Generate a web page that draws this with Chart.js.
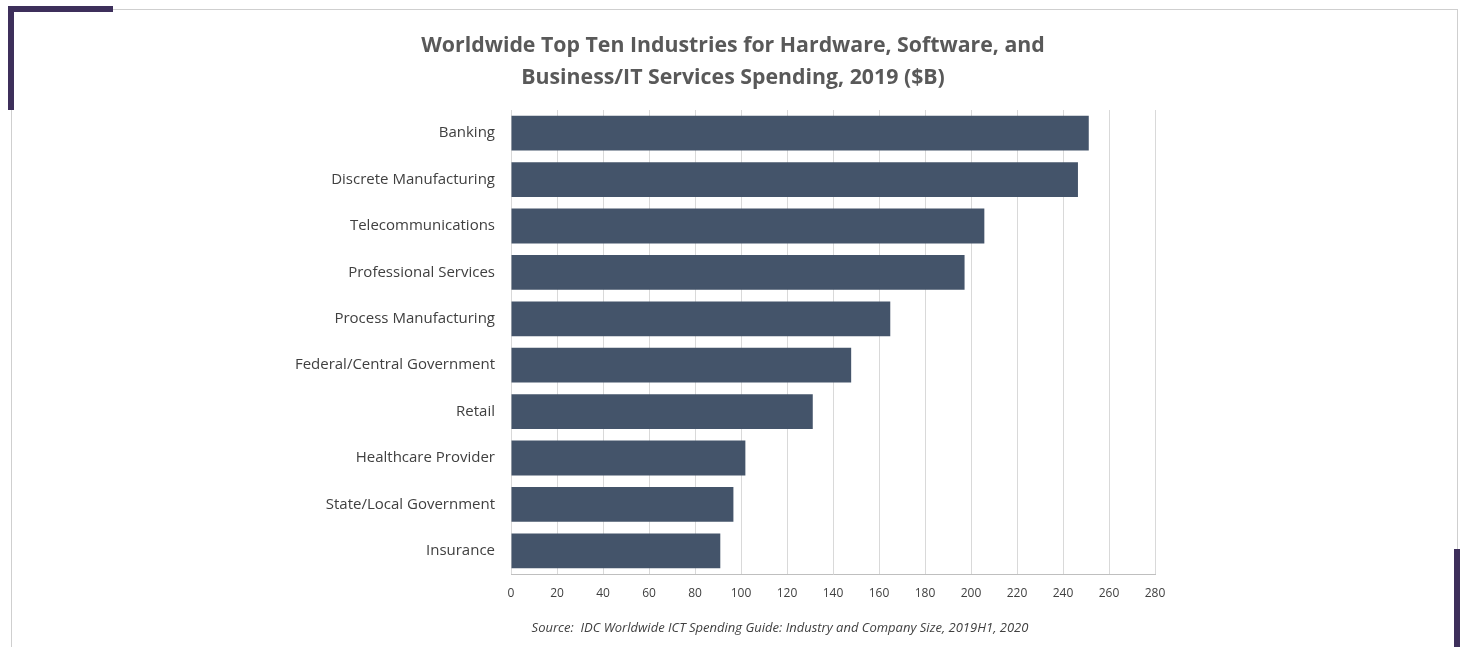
<!DOCTYPE html>
<html>
<head>
<meta charset="utf-8">
<script src="https://cdn.jsdelivr.net/npm/chart.js@4/dist/chart.umd.min.js"></script>
<style>
  html, body { margin: 0; padding: 0; background: #ffffff; }
  #wrap { position: relative; width: 1463px; height: 647px; overflow: hidden; background: #fff; }
  #c { position: absolute; left: 0; top: 0; }
  .ln { position: absolute; background: #cfcfcf; }
  .pp { position: absolute; background: #3d2f5b; }
</style>
</head>
<body>
<div id="wrap">
  <canvas id="c" width="1463" height="647"></canvas>
  <div class="ln" style="left:12px; top:9px; width:1446px; height:1px;"></div>
  <div class="ln" style="left:11px; top:9px; width:1px; height:640px;"></div>
  <div class="ln" style="left:1457px; top:9px; width:1px; height:640px;"></div>
  <div class="pp" style="left:8px; top:6px; width:105px; height:6px;"></div>
  <div class="pp" style="left:8px; top:6px; width:6px; height:104px;"></div>
  <div class="pp" style="left:1454px; top:549px; width:6px; height:98px;"></div>
</div>
<script>
const categories = [
  "Banking",
  "Discrete Manufacturing",
  "Telecommunications",
  "Professional Services",
  "Process Manufacturing",
  "Federal/Central Government",
  "Retail",
  "Healthcare Provider",
  "State/Local Government",
  "Insurance"
];
const spending = [251.2, 246.5, 205.8, 197.2, 164.9, 147.9, 131.2, 101.9, 96.7, 91.0];
const xTicks = [0, 20, 40, 60, 80, 100, 120, 140, 160, 180, 200, 220, 240, 260, 280];
const titleLines = [
  "Worldwide Top Ten Industries for Hardware, Software, and",
  "Business/IT Services Spending, 2019 ($B)"
];
const sourceText = "Source:  IDC Worldwide ICT Spending Guide: Industry and Company Size, 2019H1, 2020";

const FONT = "'Open Sans', 'Noto Sans', sans-serif";

const textPlugin = {
  id: 'textPlugin',
  afterDraw(chart) {
    const ctx = chart.ctx;
    ctx.save();
    ctx.textAlign = 'center';
    ctx.textBaseline = 'middle';
    ctx.fillStyle = '#595959';
    ctx.font = "bold 21.3px " + FONT;
    ctx.fillText(titleLines[0], 733, 46);
    ctx.fillText(titleLines[1], 733, 78);
    ctx.fillStyle = '#404040';
    ctx.font = "italic 13px " + FONT;
    ctx.fillText(sourceText, 780, 628);
    ctx.restore();
  }
};

new Chart(document.getElementById('c'), {
  type: 'bar',
  data: {
    labels: categories,
    datasets: [{
      data: spending,
      backgroundColor: '#44546a',
      borderWidth: 0,
      categoryPercentage: 1.0,
      barPercentage: 0.75
    }]
  },
  options: {
    indexAxis: 'y',
    responsive: false,
    animation: false,
    layout: { padding: { top: 110, left: 20, right: 308, bottom: 33 } },
    plugins: {
      legend: { display: false },
      tooltip: { enabled: false },
      title: { display: false },
      subtitle: { display: false }
    },
    scales: {
      x: {
        min: 0,
        max: 280,
        afterBuildTicks: (axis) => { axis.ticks = xTicks.map(v => ({ value: v })); },
        afterFit: (axis) => { axis.height = 40; },
        grid: { color: '#d9d9d9', lineWidth: 1, drawTicks: false },
        border: { display: true, color: '#bfbfbf', width: 1 },
        ticks: {
          color: '#404040',
          padding: 12,
          font: { family: FONT, size: 12 }
        }
      },
      y: {
        afterFit: (axis) => { axis.width = 491; },
        grid: { display: false, drawTicks: false },
        border: { display: false },
        ticks: {
          color: '#404040',
          padding: 16,
          font: { family: FONT, size: 15 }
        }
      }
    }
  },
  plugins: [textPlugin]
});
</script>
</body>
</html>
